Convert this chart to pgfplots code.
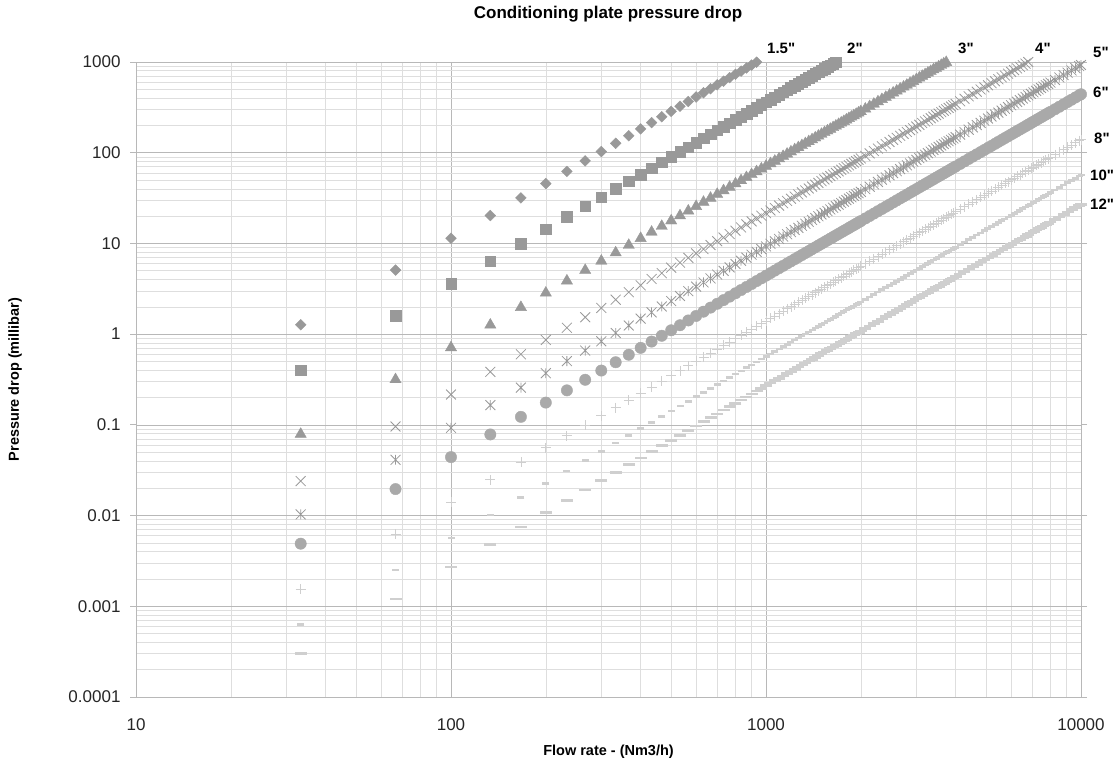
\documentclass[border=0pt]{standalone}
\usepackage{pgfplots}
\usepackage{pgfplotstable}
\pgfplotsset{compat=1.18}
\usepackage{fontspec}
\setmainfont{Liberation Sans}
\newfontfamily\lblfont{Liberation Sans}
\definecolor{gA}{HTML}{999999}
\definecolor{gB}{HTML}{A9A9A9}
\definecolor{gC}{HTML}{CFCFCF}
\definecolor{gridmaj}{HTML}{B8B8B8}
\definecolor{gridmin}{HTML}{DEDEDE}

\pgfdeclareplotmark{xast}{%
  \pgfpathmoveto{\pgfqpoint{-.7071\pgfplotmarksize}{-.7071\pgfplotmarksize}}%
  \pgfpathlineto{\pgfqpoint{.7071\pgfplotmarksize}{.7071\pgfplotmarksize}}%
  \pgfpathmoveto{\pgfqpoint{-.7071\pgfplotmarksize}{.7071\pgfplotmarksize}}%
  \pgfpathlineto{\pgfqpoint{.7071\pgfplotmarksize}{-.7071\pgfplotmarksize}}%
  \pgfpathmoveto{\pgfqpoint{0pt}{-.7071\pgfplotmarksize}}%
  \pgfpathlineto{\pgfqpoint{0pt}{.7071\pgfplotmarksize}}%
  \pgfusepathqstroke}

% x = flow rate (Nm3/h); a..i = pressure drop (mbar) for 1.5", 2", 3", 4", 5", 6", 8", 10", 12"
\pgfplotstableread{
x a b c d e f g h i
33.33 1.27 0.4 0.079 0.024 0.0103 0.0049 0.00155 0.00063 0.0003
66.67 5.08 1.6 0.316 0.096 0.0412 0.0196 0.0062 0.00252 0.0012
100 11.4 3.6 0.711 0.216 0.0927 0.0441 0.01395 0.00567 0.0027
133.3 20.3 6.4 1.264 0.384 0.165 0.0784 0.0248 0.0101 0.0048
166.7 31.75 10 1.975 0.6 0.2575 0.1225 0.03875 0.01575 0.0075
200 45.7 14.4 2.844 0.864 0.371 0.176 0.0558 0.0227 0.0108
233.3 62.2 19.6 3.87 1.176 0.505 0.24 0.076 0.0309 0.0147
266.7 81.3 25.6 5.06 1.536 0.659 0.314 0.0992 0.0403 0.0192
300 102.9 32.4 6.4 1.944 0.834 0.397 0.1256 0.051 0.0243
333.3 127 40 7.9 2.4 1.03 0.49 0.155 0.063 0.03
366.7 153.7 48.4 9.56 2.904 1.246 0.593 0.1876 0.0762 0.0363
400 182.9 57.6 11.38 3.456 1.483 0.706 0.2232 0.0907 0.0432
433.3 214.6 67.6 13.35 4.056 1.741 0.828 0.262 0.1065 0.0507
466.7 248.9 78.4 15.48 4.704 2.019 0.96 0.3038 0.1235 0.0588
500 285.8 90 17.78 5.4 2.318 1.103 0.349 0.1418 0.0675
533.3 325.1 102.4 20.22 6.144 2.637 1.254 0.397 0.1613 0.0768
566.7 367 115.6 22.83 6.936 2.977 1.416 0.448 0.182 0.0867
600 411.5 129.6 25.6 7.776 3.337 1.588 0.502 0.204 0.0972
633.3 458.5 144.4 28.52 8.664 3.718 1.769 0.56 0.2274 0.1083
666.7 508 160 31.6 9.6 4.12 1.96 0.62 0.252 0.12
700 560 176.4 34.84 10.58 4.542 2.161 0.684 0.278 0.1323
733.3 614.7 193.6 38.24 11.62 4.985 2.372 0.75 0.305 0.1452
766.7 671.8 211.6 41.79 12.7 5.449 2.592 0.82 0.333 0.1587
800 731.5 230.4 45.5 13.82 5.933 2.822 0.893 0.363 0.1728
833.3 793.8 250 49.38 15 6.438 3.063 0.969 0.394 0.1875
866.7 858.5 270.4 53.4 16.22 6.963 3.312 1.048 0.426 0.2028
900 925.8 291.6 57.59 17.5 7.509 3.572 1.13 0.459 0.2187
933.3 995.7 313.6 61.94 18.82 8.075 3.842 1.215 0.494 0.2352
966.7 nan 336.4 66.44 20.18 8.662 4.121 1.304 0.53 0.2523
1000 nan 360 71.1 21.6 9.27 4.41 1.395 0.567 0.27
1033.3 nan 384.4 75.92 23.06 9.898 4.709 1.49 0.605 0.2883
1066.7 nan 409.6 80.9 24.58 10.55 5.018 1.587 0.645 0.3072
1100 nan 435.6 86.03 26.14 11.22 5.336 1.688 0.686 0.3267
1133.3 nan 462.4 91.32 27.74 11.91 5.664 1.792 0.728 0.3468
1166.7 nan 490 96.78 29.4 12.62 6.003 1.899 0.772 0.3675
1200 nan 518.4 102.4 31.1 13.35 6.35 2.009 0.816 0.3888
1233.3 nan 547.6 108.2 32.86 14.1 6.708 2.122 0.862 0.4107
1266.7 nan 577.6 114.1 34.66 14.87 7.076 2.238 0.91 0.4332
1300 nan 608.4 120.2 36.5 15.67 7.453 2.358 0.958 0.4563
1333.3 nan 640 126.4 38.4 16.48 7.84 2.48 1.008 0.48
1366.7 nan 672.4 132.8 40.34 17.31 8.237 2.606 1.059 0.5043
1400 nan 705.6 139.4 42.34 18.17 8.644 2.734 1.111 0.5292
1433.3 nan 739.6 146.1 44.38 19.04 9.06 2.866 1.165 0.5547
1466.7 nan 774.4 152.9 46.46 19.94 9.486 3.001 1.22 0.5808
1500 nan 810 160 48.6 20.86 9.923 3.139 1.276 0.6075
1533.3 nan 846.4 167.2 50.78 21.79 10.37 3.28 1.333 0.6348
1566.7 nan 883.6 174.5 53.02 22.75 10.82 3.424 1.392 0.6627
1600 nan 921.6 182 55.3 23.73 11.29 3.571 1.452 0.6912
1633.3 nan 960.4 189.7 57.62 24.73 11.76 3.722 1.513 0.7203
1666.7 nan 1000 197.5 60 25.75 12.25 3.875 1.575 0.75
1700 nan nan 205.5 62.42 26.79 12.74 4.032 1.639 0.7803
1733.3 nan nan 213.6 64.9 27.85 13.25 4.191 1.704 0.8112
1766.7 nan nan 221.9 67.42 28.93 13.76 4.354 1.77 0.8427
1800 nan nan 230.4 69.98 30.03 14.29 4.52 1.837 0.8748
1833.3 nan nan 239 72.6 31.16 14.82 4.689 1.906 0.9075
1866.7 nan nan 247.7 75.26 32.3 15.37 4.861 1.976 0.9408
1900 nan nan 256.7 77.98 33.46 15.92 5.036 2.047 0.9747
1933.3 nan nan 265.8 80.74 34.65 16.48 5.214 2.119 1.009
1966.7 nan nan 275 83.54 35.85 17.06 5.396 2.193 1.044
2000 nan nan 284.4 86.4 37.08 17.64 5.58 2.268 1.08
2066.7 nan nan 303.7 92.26 39.59 18.84 5.958 2.422 1.153
2133.3 nan nan 323.6 98.3 42.19 20.07 6.349 2.58 1.229
2200 nan nan 344.1 104.5 44.87 21.34 6.752 2.744 1.307
2266.7 nan nan 365.3 111 47.63 22.66 7.167 2.913 1.387
2333.3 nan nan 387.1 117.6 50.47 24.01 7.595 3.087 1.47
2400 nan nan 409.5 124.4 53.4 25.4 8.035 3.266 1.555
2466.7 nan nan 432.6 131.4 56.4 26.83 8.488 3.45 1.643
2533.3 nan nan 456.3 138.6 59.49 28.3 8.953 3.639 1.733
2600 nan nan 480.6 146 62.67 29.81 9.43 3.833 1.825
2666.7 nan nan 505.6 153.6 65.92 31.36 9.92 4.032 1.92
2733.3 nan nan 531.2 161.4 69.26 32.95 10.42 4.236 2.017
2800 nan nan 557.4 169.3 72.68 34.57 10.94 4.445 2.117
2866.7 nan nan 584.3 177.5 76.18 36.24 11.46 4.659 2.219
2933.3 nan nan 611.8 185.9 79.76 37.95 12 4.879 2.323
3000 nan nan 639.9 194.4 83.43 39.69 12.56 5.103 2.43
3066.7 nan nan 668.7 203.1 87.18 41.47 13.12 5.332 2.539
3133.3 nan nan 698 212.1 91.01 43.3 13.7 5.567 2.651
3200 nan nan 728.1 221.2 94.92 45.16 14.28 5.806 2.765
3266.7 nan nan 758.7 230.5 98.92 47.06 14.89 6.051 2.881
3333.3 nan nan 790 240 103 49 15.5 6.3 3
3400 nan nan 821.9 249.7 107.2 50.98 16.13 6.555 3.121
3466.7 nan nan 854.5 259.6 111.4 53 16.76 6.814 3.245
3533.3 nan nan 887.6 269.7 115.7 55.06 17.42 7.079 3.371
3600 nan nan 921.5 279.9 120.1 57.15 18.08 7.348 3.499
3666.7 nan nan 955.9 290.4 124.6 59.29 18.76 7.623 3.63
3733.3 nan nan 991 301.1 129.2 61.47 19.44 7.903 3.763
3800 nan nan nan 311.9 133.9 63.68 20.14 8.187 3.899
3866.7 nan nan nan 322.9 138.6 65.93 20.86 8.477 4.037
3933.3 nan nan nan 334.2 143.4 68.23 21.58 8.772 4.177
4000 nan nan nan 345.6 148.3 70.56 22.32 9.072 4.32
4133.3 nan nan nan 369 158.4 75.34 23.83 9.687 4.613
4266.7 nan nan nan 393.2 168.8 80.28 25.4 10.32 4.915
4400 nan nan nan 418.2 179.5 85.38 27.01 10.98 5.227
4533.3 nan nan nan 443.9 190.5 90.63 28.67 11.65 5.549
4666.7 nan nan nan 470.4 201.9 96.04 30.38 12.35 5.88
4800 nan nan nan 497.7 213.6 101.6 32.14 13.06 6.221
4933.3 nan nan nan 525.7 225.6 107.3 33.95 13.8 6.571
5066.7 nan nan nan 554.5 238 113.2 35.81 14.56 6.931
5200 nan nan nan 584.1 250.7 119.2 37.72 15.33 7.301
5333.3 nan nan nan 614.4 263.7 125.4 39.68 16.13 7.68
5466.7 nan nan nan 645.5 277 131.8 41.69 16.94 8.069
5600 nan nan nan 677.4 290.7 138.3 43.75 17.78 8.467
5733.3 nan nan nan 710 304.7 145 45.86 18.64 8.875
5866.7 nan nan nan 743.4 319.1 151.8 48.01 19.51 9.293
6000 nan nan nan 777.6 333.7 158.8 50.22 20.41 9.72
6133.3 nan nan nan 812.5 348.7 165.9 52.48 21.33 10.16
6266.7 nan nan nan 848.3 364 173.2 54.78 22.27 10.6
6400 nan nan nan 884.7 379.7 180.6 57.14 23.22 11.06
6533.3 nan nan nan 922 395.7 188.2 59.54 24.2 11.52
6666.7 nan nan nan 960 412 196 62 25.2 12
6800 nan nan nan 998.8 428.6 203.9 64.5 26.22 12.48
6933.3 nan nan nan nan 445.6 212 67.06 27.26 12.98
7066.7 nan nan nan nan 462.9 220.2 69.66 28.31 13.48
7200 nan nan nan nan 480.6 228.6 72.32 29.39 14
7333.3 nan nan nan nan 498.5 237.2 75.02 30.49 14.52
7466.7 nan nan nan nan 516.8 245.9 77.77 31.61 15.05
7600 nan nan nan nan 535.4 254.7 80.58 32.75 15.6
7733.3 nan nan nan nan 554.4 263.7 83.43 33.91 16.15
7866.7 nan nan nan nan 573.7 272.9 86.33 35.09 16.71
8000 nan nan nan nan 593.3 282.2 89.28 36.29 17.28
8266.7 nan nan nan nan 633.5 301.4 95.33 38.75 18.45
8533.3 nan nan nan nan 675 321.1 101.6 41.29 19.66
8800 nan nan nan nan 717.9 341.5 108 43.91 20.91
9066.7 nan nan nan nan 762 362.5 114.7 46.61 22.2
9333.3 nan nan nan nan 807.5 384.2 121.5 49.39 23.52
9600 nan nan nan nan 854.3 406.4 128.6 52.25 24.88
9866.7 nan nan nan nan 902.4 429.3 135.8 55.2 26.28
10000 nan nan nan nan 927 441 139.5 56.7 27
}\datatable

\begin{document}
\begin{tikzpicture}
\useasboundingbox (0,0) rectangle (1117pt,780pt);
\begin{axis}[
  at={(136pt,83pt)}, anchor=south west,
  scale only axis, width=945pt, height=635pt,
  xmode=log, ymode=log,
  xmin=10, xmax=10000, ymin=0.0001, ymax=1000,
  log basis x=10, log basis y=10,
  xtick={10,100,1000,10000},
  xticklabels={10,100,1000,10000},
  minor xtick={20,30,40,50,60,70,80,90,200,300,400,500,600,700,800,900,2000,3000,4000,5000,6000,7000,8000,9000},
  ytick={0.0001,0.001,0.01,0.1,1,10,100,1000},
  yticklabels={0.0001,0.001,0.01,0.1,1,10,100,1000},
  minor ytick={0.0002,0.0003,0.0004,0.0005,0.0006,0.0007,0.0008,0.0009,
    0.002,0.003,0.004,0.005,0.006,0.007,0.008,0.009,
    0.02,0.03,0.04,0.05,0.06,0.07,0.08,0.09,
    0.2,0.3,0.4,0.5,0.6,0.7,0.8,0.9,
    2,3,4,5,6,7,8,9,
    20,30,40,50,60,70,80,90,
    200,300,400,500,600,700,800,900},
  grid=both,
  major grid style={draw=gridmaj, line width=0.6pt},
  minor grid style={draw=gridmin, line width=0.6pt},
  axis line style={draw=gridmaj, line width=0.8pt},
  tick align=outside,
  major tick length=6pt, minor tick length=0pt,
  xtick style={draw=none},
  ytick style={draw=gridmaj, line width=0.8pt},
  ticklabel style={font=\fontsize{17}{20}\selectfont, text=black!85},
  xticklabel style={yshift=-12pt},
  yticklabel style={xshift=-6pt},
  unbounded coords=discard,
  filter discard warning=false,
  clip=false,
  title={Conditioning plate pressure drop},
  title style={font=\fontsize{17}{20}\selectfont\bfseries, at={(axis description cs:0.4995,1.0661)}, anchor=center},
  xlabel={Flow rate - (Nm3/h)},
  xlabel style={font=\fontsize{14.5}{17}\selectfont\bfseries, at={(axis description cs:0.5,-0.0866)}, anchor=center},
  ylabel={Pressure drop (millibar)},
  ylabel style={font=\fontsize{14.5}{17}\selectfont\bfseries, at={(axis description cs:-0.128,0.5)}, anchor=center, rotate=0},
]
\addplot[only marks, mark=square*, mark size=3.8pt, mark options={rotate=45, draw=gA, fill=gA}] table[x=x,y=a]{\datatable};
\addplot[only marks, mark=square*, mark size=5.3pt, mark options={draw=gA, fill=gA}] table[x=x,y=b]{\datatable};
\addplot[only marks, mark=triangle*, mark size=6.5pt, mark options={draw=gA, fill=gA}] table[x=x,y=c]{\datatable};
\addplot[only marks, mark=x, mark size=7pt, mark options={draw=gA, line width=0.8pt}] table[x=x,y=d]{\datatable};
\addplot[only marks, mark=xast, mark size=7pt, mark options={draw=gA, line width=0.8pt}] table[x=x,y=e]{\datatable};
\addplot[only marks, mark=*, mark size=5.7pt, mark options={draw=gB, fill=gB}] table[x=x,y=f]{\datatable};
\addplot[only marks, mark=+, mark size=5pt, mark options={draw=gC, line width=0.8pt}] table[x=x,y=g]{\datatable};
\addplot[only marks, mark=-, mark size=3.5pt, mark options={draw=gC, line width=2.6pt}] table[x=x,y=h]{\datatable};
\addplot[only marks, mark=-, mark size=6pt, mark options={draw=gC, line width=2.6pt}] table[x=x,y=i]{\datatable};
\end{axis}
\begin{scope}[every node/.style={font=\lblfont\fontsize{15}{18}\selectfont\bfseries, anchor=west, inner sep=0pt}]
\node at (767pt,732pt) {1.5"};
\node at (847pt,732pt) {2"};
\node at (958pt,732pt) {3"};
\node at (1035pt,732pt) {4"};
\node at (1093pt,728pt) {5"};
\node at (1093pt,688pt) {6"};
\node at (1094pt,642pt) {8"};
\node at (1090pt,605pt) {10"};
\node at (1090pt,576pt) {12"};
\end{scope}
\end{tikzpicture}
\end{document}
